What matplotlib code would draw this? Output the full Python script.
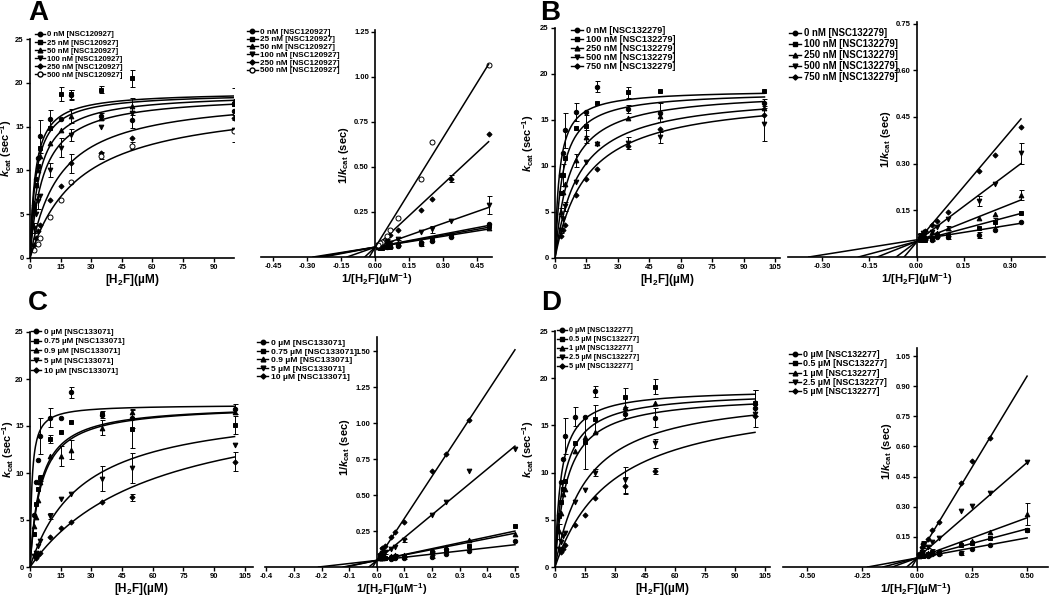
import numpy as np
import matplotlib
matplotlib.use("Agg")
import matplotlib.pyplot as plt
from matplotlib.lines import Line2D

plt.rcParams['font.family'] = ['Liberation Sans', 'DejaVu Sans']
plt.rcParams['font.weight'] = 'bold'
plt.rcParams['mathtext.fontset'] = 'custom'
plt.rcParams['mathtext.rm'] = 'Liberation Sans:bold'
plt.rcParams['mathtext.it'] = 'Liberation Sans:italic:bold'
plt.rcParams['mathtext.bf'] = 'Liberation Sans:bold'

nan = np.nan

# ---------------- data ----------------
# substrate [H2F] in uM
conc_A = [2, 3, 4, 5, 10, 15, 20, 35, 50, 100]
conc_B = [3, 4, 5, 10, 15, 20, 35, 50, 100]
conc_C = [2, 3, 4, 5, 10, 15, 20, 35, 50, 100]
conc_D = [2, 3, 4, 5, 10, 15, 20, 35, 50, 100]

labels_A = ['0 nM [NSC120927]', '25 nM [NSC120927]', '50 nM [NSC120927]',
            '100 nM [NSC120927]', '250 nM [NSC120927]', '500 nM [NSC120927]']
labels_B = ['0 nM [NSC132279]', '100 nM [NSC132279]', '250 nM [NSC132279]',
            '500 nM [NSC132279]', '750 nM [NSC132279]']
labels_C = ['0 \u00b5M [NSC133071]', '0.75 \u00b5M [NSC133071]', '0.9 \u00b5M [NSC133071]',
            '5 \u00b5M [NSC133071]', '10 \u00b5M [NSC133071]']
labels_D = ['0 \u00b5M [NSC132277]', '0.5 \u00b5M [NSC132277]', '1 \u00b5M [NSC132277]',
            '2.5 \u00b5M [NSC132277]', '5 \u00b5M [NSC132277]']

# kcat (sec^-1), one row per inhibitor concentration
kcat_A = [[5.5, 9.0, 11.4, 13.9, 15.9, 15.9, 18.6, 16.2, 15.8, 16.8],
          [5.9, 8.3, 10.5, 12.5, 14.8, 18.7, 18.7, 19.2, 20.5, 17.6],
          [6.3, 8.3, 10.0, 11.6, 13.1, 14.6, 16.2, 16.0, 17.3, 17.9],
          [3.45, 5.0, 6.45, 7.1, 10.0, 12.6, 14.0, 15.0, 16.5, 14.6],
          [1.47, 2.3, 3.1, 3.8, 6.6, 8.2, 10.8, 12.0, 13.7, 16.0],
          [0.94, nan, 1.57, 2.3, 4.65, 6.6, 8.7, 11.7, 12.8, 14.5]]
err_A = [[0, 0, 0, 1.9, 1.0, 0, 0.6, 0.4, 1.0, 0.5],
         [0, 0, 0, 0, 0, 0.8, 0.5, 0.4, 1.0, 1.8],
         [0, 0, 0, 0, 0, 0, 0.8, 0, 1.0, 0],
         [0.6, 0, 0.8, 0, 0.8, 1.1, 0.7, 0, 0, 1.4],
         [0, 0.1, 0, 0, 0, 0, 1.1, 0, 0, 0],
         [0, 0, 0, 0, 0, 0, 0, 0.4, 0.4, 0]]

kcat_B = [[9.0, 11.4, 13.9, 15.9, 15.9, 18.6, 16.2, 15.8, 16.8],
          [7.1, 9.0, 10.9, 14.1, 14.4, 16.8, 18.0, 18.2, 18.1],
          [5.0, 7.2, 8.0, 10.6, 13.2, 12.5, 15.2, 15.4, 16.3],
          [3.0, 4.26, 5.6, 8.3, 10.4, 12.4, 12.5, 13.1, 14.6],
          [2.4, 3.06, 3.6, 6.9, 8.6, 9.7, 12.2, 14.0, 15.5]]
err_B = [[0, 0, 1.9, 1.0, 0, 0.6, 0.4, 1.0, 0.5],
         [0, 1.2, 0, 0, 1.1, 0, 0.6, 0, 0],
         [0.4, 0, 0, 0.7, 0.7, 0, 0, 0, 0],
         [0.3, 0, 0.5, 0, 0, 0, 0.6, 0.6, 1.9],
         [0, 0, 0, 0, 0, 0, 0, 0, 0]]

kcat_C = [[5.5, 9.0, 11.4, 13.9, 15.9, 15.9, 18.6, 16.2, 15.8, 16.8],
          [3.5, 6.7, 8.3, 9.5, 13.6, 14.4, 15.4, 16.3, 14.7, 15.1],
          [4.35, 5.3, 7.1, 9.0, 11.8, 11.8, 12.5, 14.8, 16.5, 16.5],
          [1.22, 1.49, 2.2, 2.75, 5.4, 7.2, 7.8, 9.4, 10.5, 13.0],
          [nan, 0.98, 1.27, 1.49, 3.2, 4.1, 4.8, 6.9, 7.4, 11.2]]
err_C = [[0, 0, 0, 1.9, 1.0, 0, 0.6, 0.4, 1.0, 0.5],
         [0, 0, 0, 0.3, 0.4, 0, 0, 0, 2.0, 1.0],
         [0, 0, 0, 0, 0, 1.1, 1.0, 0.8, 0, 0],
         [0, 0, 0, 0, 0.3, 0, 0, 1.3, 1.6, 0],
         [0, 0, 0, 0, 0, 0, 0, 0, 0.4, 1.0]]

kcat_D = [[5.5, 9.0, 11.4, 13.9, 15.9, 15.9, 18.6, 16.2, 15.8, 16.8],
          [5.4, 6.9, 8.3, 9.1, 13.1, 13.2, 15.7, 18.0, 19.1, 17.4],
          [3.8, 5.7, 7.7, 8.3, 12.3, 13.8, 14.3, 16.9, 17.4, 17.5],
          [1.92, 2.7, 3.3, 3.6, 6.9, 8.2, 10.0, 9.2, 13.1, 16.2],
          [nan, 1.56, 1.9, 2.38, 4.5, 5.5, 7.3, 8.6, 10.2, 16.0]]
err_D = [[0, 0, 0, 1.9, 1.0, 0, 0.6, 0.4, 1.0, 2.0],
         [0, 0, 0, 0, 0, 2.8, 1.5, 1.0, 0.8, 1.4],
         [0.8, 0, 0, 0, 0, 0, 0, 0, 0, 0],
         [0, 0, 0, 0, 0, 0, 0.4, 1.4, 0.5, 0],
         [0, 0, 0, 0, 0, 0, 0, 0.9, 0.3, 0]]

# Michaelis-Menten fit parameters (Vmax sec^-1, Km uM)
vmax_A = [18.97, 18.85, 18.83, 18.7, 18.7, 18.2]
km_A = [2.57, 3.0, 4.6, 6.5, 14.3, 24.1]
vmax_B = [18.28, 18.14, 18.2, 18.0, 17.8]
km_B = [2.14, 3.64, 7.0, 11.2, 15.1]
vmax_C = [17.26, 17.3, 17.3, 17.4, 18.7]
km_C = [0.92, 5.0, 5.4, 25.4, 59.8]
vmax_D = [18.85, 18.6, 18.3, 18.7, 18.4]
km_D = [3.0, 4.5, 6.0, 16.2, 29.0]

# Lineweaver-Burk fitted lines (slope, y-intercept)
lb_slope_A = [0.2, 0.22, 0.24, 0.44, 1.17, 2.03]
lb_int_A = [0.055, 0.055, 0.055, 0.055, 0.055, 0.055]
lb_slope_B = [0.16, 0.27, 0.40, 0.754, 1.19]
lb_int_B = [0.055, 0.05, 0.05, 0.049, 0.047]
lb_slope_C = [0.218, 0.408, 0.378, 1.59, 2.93]
lb_int_C = [0.046, 0.046, 0.046, 0.046, 0.046]
lb_slope_D = [0.2, 0.29, 0.4, 0.95, 1.81]
lb_int_D = [0.045, 0.045, 0.045, 0.045, 0.045]

# ---------------- drawing ----------------
W, H = 1050, 598
fig = plt.figure(figsize=(W / 100, H / 100), dpi=100)

markers = ['o', 's', '^', 'v', 'D', 'o']
msizes = [3.2, 3.2, 3.4, 3.4, 2.6, 3.6]
faces = ['k', 'k', 'k', 'k', 'k', 'white']


def add_ax(l, t, r, b):
    return fig.add_axes([l / W, 1 - b / H, (r - l) / W, (b - t) / H])


def style(ax):
    for s in ['top', 'right']:
        ax.spines[s].set_visible(False)
    for s in ['left', 'bottom']:
        ax.spines[s].set_linewidth(1.2)
    ax.tick_params(direction='out', length=3, width=1, labelsize=5.5, pad=1.5)
    for t in ax.get_xticklabels() + ax.get_yticklabels():
        t.set_fontweight('bold')


def handles(n):
    return [Line2D([], [], color='k', lw=1.0, marker=markers[i], ms=msizes[i],
                   mfc=faces[i], mec='k') for i in range(n)]


def legend(n, labels, x, y, size, spacing):
    fig.legend(handles(n), labels, loc='upper left', bbox_to_anchor=(x / W, 1 - y / H),
               frameon=False, prop={'size': size, 'weight': 'bold'}, handlelength=1.3,
               handletextpad=0.3, labelspacing=spacing, borderpad=0, borderaxespad=0)


def mm_panel(ax, conc, kcat, err, vmax, km, xlim, xticks, ylab_x):
    x = np.array(conc, float)
    s = np.linspace(0, x.max(), 300)
    for i in range(len(kcat)):
        y = np.array(kcat[i], float)
        e = np.array(err[i], float)
        k = e > 0
        ax.errorbar(x[k], y[k], yerr=e[k], fmt='none', ecolor='k', elinewidth=0.7,
                    capsize=1.8, capthick=0.7)
        ax.plot(x, y, ls='none', marker=markers[i], ms=msizes[i], mfc=faces[i],
                mec='k', mew=0.7)
        ax.plot(s, vmax[i] * s / (km[i] + s), 'k-', lw=1.1)
    ax.set_xlim(*xlim)
    ax.set_ylim(0, 25)
    ax.set_xticks(xticks)
    ax.set_yticks([0, 5, 10, 15, 20, 25])
    ax.set_xlabel('[H$_2$F](\u00b5M)', fontsize=8.5, fontweight='bold', labelpad=0.5)
    ax.set_ylabel('$k_{\\mathrm{cat}}$ (sec$^{-1}$)', fontsize=8, fontweight='bold')
    ax.yaxis.set_label_coords(ylab_x, 0.5)
    style(ax)


def lb_panel(ax, conc, kcat, err, slope, icpt, xend, xlim, ylim, xticks, yticks,
             xfmt, lab_xy):
    x = 1 / np.array(conc, float)
    for i in range(len(kcat)):
        k_ = np.array(kcat[i], float)
        y = 1 / k_
        e = np.array(err[i], float) / k_ ** 2
        k = e > 0
        ax.errorbar(x[k], y[k], yerr=e[k], fmt='none', ecolor='k', elinewidth=0.7,
                    capsize=1.8, capthick=0.7)
        ax.plot(x, y, ls='none', marker=markers[i], ms=msizes[i], mfc=faces[i],
                mec='k', mew=0.7)
        x0 = -icpt[i] / slope[i]
        ax.plot([x0, xend], [0, icpt[i] + slope[i] * xend], 'k-', lw=1.1)
    ax.set_xlim(*xlim)
    ax.set_ylim(*ylim)
    ax.spines['left'].set_position(('data', 0))
    ax.set_xticks(xticks)
    ax.set_xticklabels([xfmt.format(v) for v in xticks])
    ax.set_yticks(yticks)
    ax.set_yticklabels(['{:.2f}'.format(v) for v in yticks])
    ax.set_xlabel('1/[H$_2$F](\u00b5M$^{-1}$)', fontsize=8.2, fontweight='bold', labelpad=0.5)
    ax.set_ylabel('1/$k_{\\mathrm{cat}}$ (sec)', fontsize=8, fontweight='bold')
    ax.yaxis.set_label_coords(*lab_xy)
    style(ax)


# panel A
axA1 = add_ax(30, 39, 234, 258)
mm_panel(axA1, conc_A, kcat_A, err_A, vmax_A, km_A, (0, 100), np.arange(0, 91, 15), -0.078)
legend(6, labels_A, 35, 31, 5.6, 0.09)
axA2 = add_ax(261, 30, 492, 257)
lb_panel(axA2, conc_A, kcat_A, err_A, lb_slope_A, lb_int_A, 0.5, (-0.505, 0.515), (0, 1.26),
         [-0.45, -0.30, -0.15, 0.0, 0.15, 0.30, 0.45], [0.25, 0.5, 0.75, 1.0, 1.25],
         '{:.2f}', (0.39, 0.45))
legend(6, labels_A, 247, 28, 5.9, 0.0)

# panel B
axB1 = add_ax(555, 28, 780, 258)
mm_panel(axB1, conc_B, kcat_B, err_B, vmax_B, km_B, (0, 107.4), np.arange(0, 106, 15), -0.084)
legend(5, labels_B, 571, 26, 6.6, 0.0)
axB2 = add_ax(788, 22, 1045, 257)
lb_panel(axB2, conc_B, kcat_B, err_B, lb_slope_B, lb_int_B, 1 / 3, (-0.41, 0.41), (0, 0.755),
         [-0.30, -0.15, 0.0, 0.15, 0.30], [0.15, 0.30, 0.45, 0.60, 0.75],
         '{:.2f}', (0.41, 0.5))
legend(5, labels_B, 789, 28, 6.9, 0.11)

# panel C
axC1 = add_ax(30, 332, 253, 567)
mm_panel(axC1, conc_C, kcat_C, err_C, vmax_C, km_C, (0, 109), np.arange(0, 106, 15), -0.063)
legend(5, labels_C, 31, 328, 5.8, 0.26)
axC2 = add_ax(265, 337, 518, 567)
lb_panel(axC2, conc_C, kcat_C, err_C, lb_slope_C, lb_int_C, 0.5, (-0.405, 0.511), (0, 1.6),
         [-0.4, -0.3, -0.2, -0.1, 0.0, 0.1, 0.2, 0.3, 0.4, 0.5],
         [0.25, 0.5, 0.75, 1.0, 1.25, 1.5], '{:.1f}', (0.344, 0.52))
legend(5, labels_C, 257, 339, 6.1, 0.08)

# panel D
axD1 = add_ax(555, 331, 770, 567)
mm_panel(axD1, conc_D, kcat_D, err_D, vmax_D, km_D, (0, 107.5), np.arange(0, 106, 15), -0.088)
legend(5, labels_D, 557, 327, 5.3, 0.25)
axD2 = add_ax(783, 348, 1048, 567)
lb_panel(axD2, conc_D, kcat_D, err_D, lb_slope_D, lb_int_D, 0.5, (-0.61, 0.595), (0, 1.09),
         [-0.50, -0.25, 0.0, 0.25, 0.50], [0.15, 0.30, 0.45, 0.60, 0.75, 0.90, 1.05],
         '{:.2f}', (0.42, 0.53))
legend(5, labels_D, 789, 350, 6.4, 0.04)

for letter, x, y in [('A', 38, 20), ('B', 550, 20), ('C', 38, 310), ('D', 551, 310)]:
    fig.text(x / W, 1 - y / H, letter, fontsize=20, fontweight='bold', ha='center',
             va='baseline')

fig.savefig('out.png', dpi=100)
